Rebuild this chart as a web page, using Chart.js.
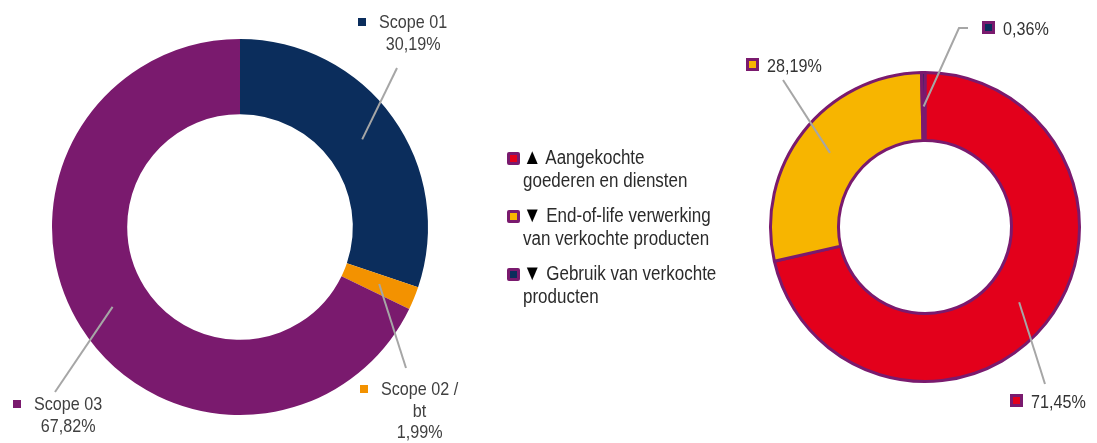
<!DOCTYPE html>
<html>
<head>
<meta charset="utf-8">
<script src="https://cdn.jsdelivr.net/npm/chart.js@4.4.1/dist/chart.umd.min.js"></script>
<style>
  body { margin: 0; background: #fff; }
  #wrap { position: relative; width: 1097px; height: 443px; overflow: hidden; }
  #wrap canvas { position: absolute; left: 0; top: 0; }
  #legend {
    position: absolute; left: 507px; top: 146px;
    font-family: "Liberation Sans", Arial, sans-serif;
    font-size: 20px; line-height: 23px; color: #2b2b2b;
  }
  .item { position: relative; padding-left: 16px; margin-bottom: 12px; height: 46px; }
  .txt { transform: scaleX(0.85); transform-origin: left top; white-space: nowrap; }
  .tri { color: #000; font-size: 22px; line-height: 20px; }
  .sq { position: absolute; left: 0; top: 6px; width: 7px; height: 7px; border: 3px solid #7A1A6E; border-radius: 2px; }
</style>
</head>
<body>
<div id="wrap">
  <canvas id="left" width="1097" height="443"></canvas>
  <canvas id="right" width="1097" height="443"></canvas>
  <div id="legend"></div>
</div>
<script>
// linker donut: scopes
var scopeLabels = ["Scope 01", "Scope 02 / bt", "Scope 03"];
var scopeLines = [["Scope 01"], ["Scope 02 /", "bt"], ["Scope 03"]];
var scopeValues = [30.19, 1.99, 67.82];
var scopeColors = ["#0B2D5C", "#F39200", "#7A1A6E"];

// rechter donut: scope 3 categorieen
var catLabels = ["Aangekochte goederen en diensten", "End-of-life verwerking van verkochte producten", "Gebruik van verkochte producten"];
var catTrends = ["▲", "▼", "▼"];
var catLegendLines = [["Aangekochte", "goederen en diensten"], ["End-of-life verwerking", "van verkochte producten"], ["Gebruik van verkochte", "producten"]];
var catValues = [71.45, 28.19, 0.36];
var catColors = ["#E3001B", "#F7B500", "#0B2D5C"];
var purple = "#7A1A6E";

var labelFont = '19px "Liberation Sans", Arial, sans-serif';
var narrow = 0.85; // smalle letter zoals Arial Narrow

function pct(v) {
    return v.toFixed(2).replace(".", ",") + "%";
}

function narrowText(ctx, t, x, y, align) {
    var w = ctx.measureText(t).width * narrow;
    var left = align === "center" ? x - w / 2 : x;
    ctx.save();
    ctx.translate(left, y);
    ctx.scale(narrow, 1);
    ctx.textAlign = "left";
    ctx.fillText(t, 0, 0);
    ctx.restore();
    return w;
}

// labels met lijntjes naast de donut
var callouts = {
    id: "callouts",
    afterDraw: function(chart, args, opts) {
        var ctx = chart.ctx;
        var meta = chart.getDatasetMeta(0);
        meta.data.forEach(function(arc, i) {
            var p = arc.getProps(["x", "y", "startAngle", "endAngle", "innerRadius", "outerRadius"], true);
            var a = (p.startAngle + p.endAngle) / 2;
            var r = (p.innerRadius + p.outerRadius) / 2;
            var spec = opts.items[i];
            // lijn
            ctx.save();
            ctx.strokeStyle = "#A6A6A6";
            ctx.lineWidth = 2;
            ctx.beginPath();
            ctx.moveTo(p.x + Math.cos(a) * r, p.y + Math.sin(a) * r);
            spec.path.forEach(function(pt) {
                ctx.lineTo(p.x + pt[0], p.y + pt[1]);
            });
            ctx.stroke();
            // blokje
            var sx = p.x + spec.sq[0];
            var base = p.y + spec.sq[1];
            var size = opts.boxSize;
            if (opts.boxBorder) {
                ctx.fillStyle = purple;
                ctx.fillRect(sx, base - size - 1, size, size);
                ctx.fillStyle = chart.data.datasets[0].backgroundColor[i];
                ctx.fillRect(sx + 3, base - size + 2, size - 6, size - 6);
            } else {
                ctx.fillStyle = chart.data.datasets[0].backgroundColor[i];
                ctx.fillRect(sx, base - size - 2, size, size);
            }
            // tekst
            ctx.font = labelFont;
            ctx.fillStyle = opts.color;
            ctx.textBaseline = "alphabetic";
            var lines = opts.lines[i].concat([pct(chart.data.datasets[0].data[i])]);
            var tx = sx + size + opts.gap;
            var w0 = narrowText(ctx, lines[0], tx, base, "left");
            for (var k = 1; k < lines.length; k++) {
                narrowText(ctx, lines[k], tx + w0 / 2, base + k * 21.5, "center");
            }
            ctx.restore();
        });
    }
};

new Chart(document.getElementById("left"), {
    type: "doughnut",
    data: {
        labels: scopeLabels,
        datasets: [{
            data: scopeValues,
            backgroundColor: scopeColors,
            borderWidth: 0
        }]
    },
    options: {
        responsive: false,
        animation: false,
        events: [],
        cutout: "60%",
        layout: { padding: { left: 52, right: 669, top: 39, bottom: 28 } },
        plugins: {
            legend: { display: false },
            tooltip: { enabled: false },
            callouts: {
                lines: scopeLines,
                boxSize: 8,
                boxBorder: false,
                gap: 13,
                color: "#404040",
                items: [
                    { sq: [118, -199], path: [[157, -159]] },
                    { sq: [120, 168], path: [[166, 141]] },
                    { sq: [-227, 183], path: [[-185, 165]] }
                ]
            }
        }
    },
    plugins: [callouts]
});

new Chart(document.getElementById("right"), {
    type: "doughnut",
    data: {
        labels: catLabels,
        datasets: [{
            data: catValues,
            backgroundColor: catColors,
            borderColor: purple,
            borderWidth: 3
        }]
    },
    options: {
        responsive: false,
        animation: false,
        events: [],
        cutout: "56%",
        layout: { padding: { left: 769, right: 16, top: 71, bottom: 60 } },
        plugins: {
            legend: { display: false },
            tooltip: { enabled: false },
            callouts: {
                lines: [[], [], []],
                boxSize: 13,
                boxBorder: true,
                gap: 8,
                color: "#333333",
                items: [
                    { sq: [85, 181], path: [[120, 157]] },
                    { sq: [-179, -155], path: [[-142, -147]] },
                    { sq: [57, -192], path: [[34, -199], [43, -199]] }
                ]
            }
        }
    },
    plugins: [callouts]
});

// legenda in het midden
var legend = document.getElementById("legend");
catLabels.forEach(function(name, i) {
    var item = document.createElement("div");
    item.className = "item";
    item.title = name;
    var sq = document.createElement("span");
    sq.className = "sq";
    sq.style.background = catColors[i];
    item.appendChild(sq);
    var txt = document.createElement("div");
    txt.className = "txt";
    catLegendLines[i].forEach(function(t, k) {
        var line = document.createElement("div");
        if (k === 0) {
            var tri = document.createElement("span");
            tri.className = "tri";
            tri.textContent = catTrends[i];
            line.appendChild(tri);
            line.appendChild(document.createTextNode(" " + t));
        } else {
            line.textContent = t;
        }
        txt.appendChild(line);
    });
    item.appendChild(txt);
    legend.appendChild(item);
});
</script>
</body>
</html>
